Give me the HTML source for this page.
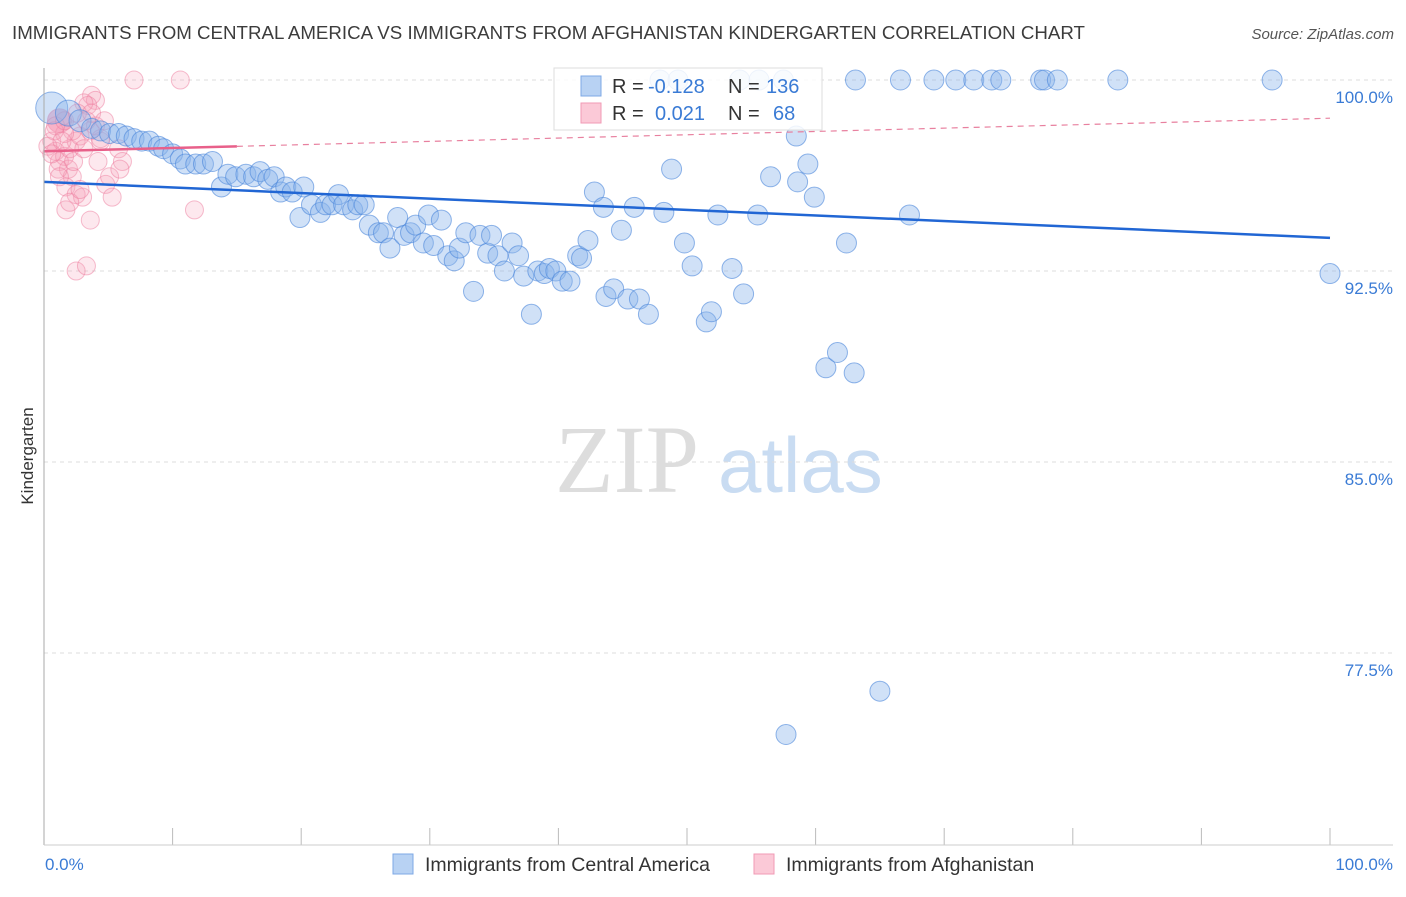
<!DOCTYPE html>
<html><head><meta charset="utf-8"><style>
body{margin:0;background:#fff;font-family:"Liberation Sans",sans-serif}
svg text{font-family:"Liberation Sans",sans-serif}
</style></head><body>
<svg width="1406" height="892" xmlns="http://www.w3.org/2000/svg" id="svg">
<text x="12" y="39" font-size="18.6" fill="#3c3c3c" textLength="1073" lengthAdjust="spacingAndGlyphs">IMMIGRANTS FROM CENTRAL AMERICA VS IMMIGRANTS FROM AFGHANISTAN KINDERGARTEN CORRELATION CHART</text>
<text x="1394" y="39" font-size="15" fill="#555" text-anchor="end" font-style="italic">Source: ZipAtlas.com</text>
<text transform="translate(33,456) rotate(-90)" font-size="17" fill="#333" text-anchor="middle">Kindergarten</text>
<g><text x="555" y="492" font-size="96" fill="#ddd" font-family="Liberation Serif" style="font-family:'Liberation Serif',serif">ZIP</text><text x="718" y="492" font-size="78" fill="#c9dcf2">atlas</text></g>
<g id="grid"></g><g id="pts"></g><g id="lines"></g>
<line x1="44" y1="68" x2="44" y2="845" stroke="#aaa"/>
<line x1="44" y1="845" x2="1393" y2="845" stroke="#ccc"/>
<text x="45" y="870" font-size="17" fill="#3a7bd5">0.0%</text>
<text x="1393" y="870" font-size="17" fill="#3a7bd5" text-anchor="end">100.0%</text>
<g>
<rect x="554" y="68" width="268" height="62" fill="#fff" fill-opacity="0.85" stroke="#ddd"/>
<rect x="581" y="76" width="20" height="20" fill="#b8d2f3" stroke="#7ea8e6"/>
<rect x="581" y="103" width="20" height="20" fill="#fbc9d7" stroke="#f09ab4"/>
<text x="612" y="93" font-size="20" fill="#333">R =</text>
<text x="648" y="93" font-size="20" fill="#3a7bd5">-0.128</text>
<text x="728" y="93" font-size="20" fill="#333">N =</text>
<text x="766" y="93" font-size="20" fill="#3a7bd5">136</text>
<text x="612" y="120" font-size="20" fill="#333">R =</text>
<text x="655" y="120" font-size="20" fill="#3a7bd5">0.021</text>
<text x="728" y="120" font-size="20" fill="#333">N =</text>
<text x="773" y="120" font-size="20" fill="#3a7bd5">68</text>
</g>
<g>
<rect x="393" y="854" width="20" height="20" fill="#b8d2f3" stroke="#7ea8e6"/>
<text x="425" y="871" font-size="19.5" fill="#333">Immigrants from Central America</text>
<rect x="754" y="854" width="20" height="20" fill="#fbc9d7" stroke="#f09ab4"/>
<text x="786" y="871" font-size="19.5" fill="#333">Immigrants from Afghanistan</text>
</g>
</svg>
<script>
const yTicks=[100,92.5,85,77.5];
const yTickLabels=["100.0%","92.5%","85.0%","77.5%"];
const blueX=[0.6,1.9,2.8,3.7,4.4,5.1,5.8,6.4,7.0,7.6,8.2,8.9,9.3,10.0,10.6,11.0,11.8,12.4,13.1,13.8,14.3,14.9,15.7,16.3,16.8,17.4,17.9,18.4,18.8,19.3,19.9,20.2,20.8,21.5,21.9,22.4,22.9,23.3,24.0,24.4,24.9,25.3,26.0,26.4,26.9,27.5,28.0,28.5,28.9,29.5,29.9,30.3,30.9,31.4,31.9,32.3,32.8,33.4,33.9,34.5,34.8,35.3,35.8,36.4,36.9,37.3,37.9,38.4,38.9,39.3,39.8,40.3,40.9,41.5,41.8,42.3,42.8,43.5,43.7,44.3,44.9,45.4,45.9,46.3,47.0,48.2,48.8,49.8,50.4,51.5,51.9,52.4,53.5,54.4,55.5,56.5,58.5,58.6,59.4,59.9,60.8,61.7,62.4,63.0,65.0,57.7,67.3,100,47.9,49.3,54.1,55.6,57.5,63.1,66.6,69.2,70.9,72.3,73.7,74.4,77.5,77.8,78.8,83.5,95.5];
const blueY=[98.9,98.7,98.4,98.1,98.0,97.9,97.9,97.8,97.7,97.6,97.6,97.4,97.3,97.1,96.9,96.7,96.7,96.7,96.8,95.8,96.3,96.2,96.3,96.2,96.4,96.1,96.2,95.6,95.8,95.6,94.6,95.8,95.1,94.8,95.1,95.1,95.5,95.1,94.9,95.1,95.1,94.3,94.0,94.0,93.4,94.6,93.9,94.0,94.3,93.6,94.7,93.5,94.5,93.1,92.9,93.4,94.0,91.7,93.9,93.2,93.9,93.1,92.5,93.6,93.1,92.3,90.8,92.5,92.4,92.6,92.5,92.1,92.1,93.1,93.0,93.7,95.6,95.0,91.5,91.8,94.1,91.4,95.0,91.4,90.8,94.8,96.5,93.6,92.7,90.5,90.9,94.7,92.6,91.6,94.7,96.2,97.8,96.0,96.7,95.4,88.7,89.3,93.6,88.5,76.0,74.3,94.7,92.4,100,100,100,100,100,100,100,100,100,100,100,100,100,100,100,100,100];
const blueR=[16,13,11];
const pinkX=[7.0,10.6,3.7,4.0,3.4,3.1,1.2,0.6,0.9,1.2,1.6,2.0,2.5,2.8,1.9,2.2,1.7,2.5,3.0,1.7,3.6,2.5,3.3,4.2,4.8,5.3,5.1,5.8,6.1,11.7,2.2,1.6,0.9,4.4,0.3,0.8,1.4,2.3,3.1,3.6,4.0,4.4,1.1,0.6,2.0,2.8,1.6,3.3,2.6,3.7,4.7,1.2,5.9];
const pinkY=[100,100,99.4,99.2,99.0,99.1,98.4,97.6,97.2,96.8,97.0,97.3,97.6,97.8,96.5,96.2,95.8,95.5,95.4,94.9,94.5,92.5,92.7,96.8,95.9,95.4,96.2,97.3,96.8,94.9,98.0,97.9,98.2,97.6,97.4,98.0,97.6,96.8,97.3,98.0,98.2,97.7,96.5,97.1,95.2,95.7,98.4,98.4,98.7,98.7,98.4,96.2,96.5];
const blueTrend=[96.0,93.8];
const pinkTrend=[97.2,98.5];
const X=v=>44+v/100*1286;
const Y=v=>80+(100-v)/7.5*191;
const NS="http://www.w3.org/2000/svg";
const grid=document.getElementById('grid');
yTicks.forEach((t,i)=>{
 const l=document.createElementNS(NS,'line');
 
 
 l.setAttribute('x1',44);l.setAttribute('x2',1393);l.setAttribute('y1',Y(t));l.setAttribute('y2',Y(t));
 l.setAttribute('stroke','#ddd');l.setAttribute('stroke-dasharray','4,4');grid.appendChild(l);
 const tx=document.createElementNS(NS,'text');
 
 
 tx.setAttribute('x',1393);tx.setAttribute('y',Y(t)+23);tx.setAttribute('text-anchor','end');
 tx.setAttribute('font-size','17');tx.setAttribute('fill','#3a7bd5');tx.textContent=yTickLabels[i];grid.appendChild(tx);
});
for(let i=1;i<=10;i++){
 const l=document.createElementNS(NS,'line');
 
 
 const x=X(i*10);l.setAttribute('x1',x);l.setAttribute('x2',x);l.setAttribute('y1',828);l.setAttribute('y2',845);l.setAttribute('stroke','#bbb');grid.appendChild(l);
}
const pts=document.getElementById('pts');
pinkX.forEach((v,i)=>{
 const c=document.createElementNS(NS,'circle');
 
 
 c.setAttribute('cx',X(v));c.setAttribute('cy',Y(pinkY[i]));c.setAttribute('r',i==6?12:9);
 c.setAttribute('fill','#f7a3bc');c.setAttribute('fill-opacity',i==6?'0.7':'0.25');c.setAttribute('stroke','#ee7b9d');c.setAttribute('stroke-opacity','0.5');pts.appendChild(c);
});
blueX.forEach((v,i)=>{
 const c=document.createElementNS(NS,'circle');
 
 
 c.setAttribute('cx',X(v));c.setAttribute('cy',Y(blueY[i]));c.setAttribute('r',blueR[i]||10);
 c.setAttribute('fill','#8ab4ec');c.setAttribute('fill-opacity','0.4');c.setAttribute('stroke','#4a86da');c.setAttribute('stroke-opacity','0.6');pts.appendChild(c);
});
const lines=document.getElementById('lines');
function ln(name,x1,y1,x2,y2,col,w,dash){
 const l=document.createElementNS(NS,'line');
 
 
 l.setAttribute('x1',X(x1));l.setAttribute('y1',Y(y1));l.setAttribute('x2',X(x2));l.setAttribute('y2',Y(y2));
 l.setAttribute('stroke',col);l.setAttribute('stroke-width',w);if(dash)l.setAttribute('stroke-dasharray',dash);lines.appendChild(l);
}
ln('central-america-trend',0,blueTrend[0],100,blueTrend[1],'#2166d4',2.5);
const pAt=x=>pinkTrend[0]+(pinkTrend[1]-pinkTrend[0])*x/100;
ln('afghanistan-trend-solid',0,pAt(0),15,pAt(15),'#e8608a',2.5);
ln('afghanistan-trend-dashed',15,pAt(15),100,pAt(100),'#e8809f',1.2,'6,5');
</script>
</body></html>
